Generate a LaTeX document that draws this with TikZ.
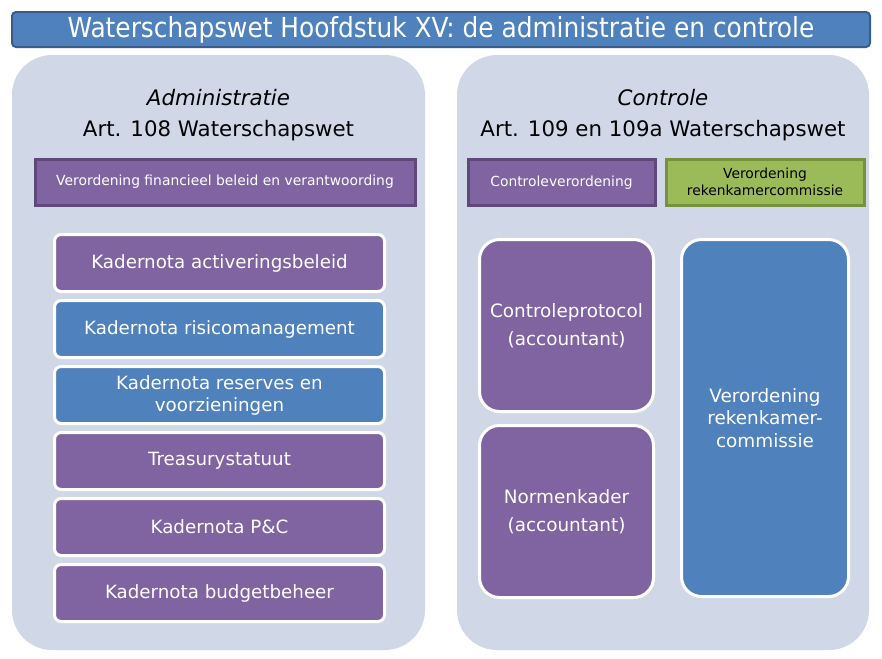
\documentclass[tikz,border=0pt]{standalone}
\usepackage{fontspec}
\setmainfont{DejaVu Sans}
\newfontfamily\titelfont{DejaVu Sans Condensed}
\definecolor{blauw}{HTML}{4F81BD}
\definecolor{blauwrand}{HTML}{385D8A}
\definecolor{paars}{HTML}{8064A2}
\definecolor{paarsrand}{HTML}{5F497A}
\definecolor{groen}{HTML}{9BBB59}
\definecolor{groenrand}{HTML}{76923C}
\definecolor{paneel}{HTML}{D0D8E8}
\tikzset{
    paneelvak/.style={fill=paneel, rounded corners=30pt},
    knop/.style={draw=#1rand, fill=#1, line width=2.25pt, minimum height=34.5pt,
        inner sep=0pt, font=\fontsize{10.4pt}{12.75pt}\selectfont, align=center, text=white},
    lijst/.style={draw=white, fill=#1, line width=2.25pt, rounded corners=5pt,
        minimum width=247.5pt, minimum height=42.75pt, inner sep=0pt,
        font=\fontsize{13.7pt}{16.5pt}\selectfont, text=white, align=center},
    blok/.style={draw=white, fill=#1, line width=2.25pt, rounded corners=15pt,
        inner sep=0pt, font=\fontsize{13.8pt}{17pt}\selectfont, text=white, align=center},
    kop/.style={font=\fontsize{16pt}{19pt}\selectfont, text=black}
}
\begin{document}
\begin{tikzpicture}[x=0.75pt, y=-0.75pt]
    \useasboundingbox (0,0) rectangle (882,658);
    \node[draw=blauwrand, fill=blauw, line width=1.5pt, rounded corners=3pt,
        minimum width=643.5pt, minimum height=26.25pt, inner sep=0pt, text=white,
        font=\titelfont\fontsize{20.7pt}{24pt}\selectfont] (titel) at (441,29.5)
        {Waterschapswet Hoofdstuk XV: de administratie en controle};
    \fill[paneelvak] (12,55) rectangle (425,650);
    \fill[paneelvak] (457,55) rectangle (869,650);
    \node[kop] (adm) at (218.5,98) {\itshape Administratie};
    \node[kop] (art108) at (218.5,131) {Art. 108 Waterschapswet};
    \node[kop] (ctrl) at (663,98) {\itshape Controle};
    \node[kop] (art109) at (663,131) {Art. 109 en 109a Waterschapswet};
    \node[knop=paars, minimum width=285pt] (fin) at (225,182)
        {Verordening financieel beleid en verantwoording};
    \node[knop=paars, minimum width=140.25pt] (cv) at (561.5,182.5) {Controleverordening};
    \node[knop=groen, minimum width=148.5pt, text=black] (rkc) at (765,182)
        {Verordening\\rekenkamercommissie};
    \node[lijst=paars] (act) at (219.5,263) {Kadernota activeringsbeleid};
    \node[lijst=blauw] (risico) at (219.5,329) {Kadernota risicomanagement};
    \node[lijst=blauw] (reserves) at (219.5,395) {Kadernota reserves en\\voorzieningen};
    \node[lijst=paars] (treasury) at (219.5,461) {Treasurystatuut};
    \node[lijst=paars] (pc) at (219.5,527) {Kadernota P\&C};
    \node[lijst=paars] (budget) at (219.5,593) {Kadernota budgetbeheer};
    \node[blok=paars, minimum width=130.5pt, minimum height=129pt,
        font=\fontsize{13.8pt}{21pt}\selectfont] (protocol) at (566.5,325.5)
        {Controleprotocol\\(accountant)};
    \node[blok=paars, minimum width=130.5pt, minimum height=129pt,
        font=\fontsize{13.8pt}{21pt}\selectfont] (normen) at (566.5,511.5)
        {Normenkader\\(accountant)};
    \node[blok=blauw, minimum width=125.25pt, minimum height=267.75pt] (vrkc) at (765,418)
        {Verordening\\rekenkamer-\\commissie};
\end{tikzpicture}
\end{document}
